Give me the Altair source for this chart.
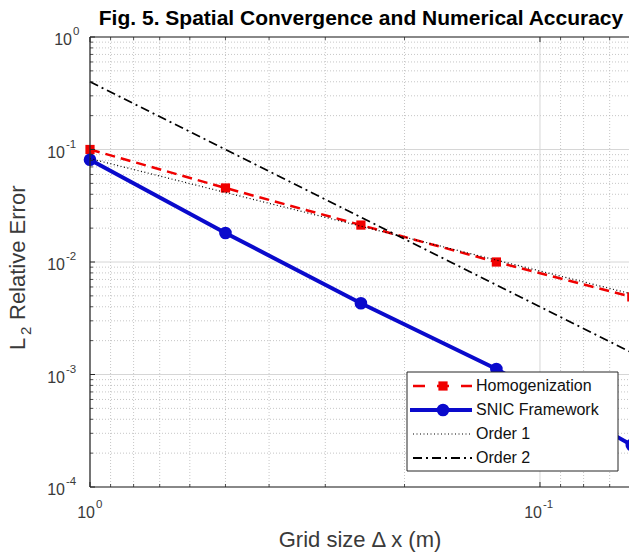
import altair as alt
import pandas as pd

# ---------------- data ----------------
dx = [1.0, 0.5, 0.25, 0.125, 0.0625]
homogenization = [0.100, 0.0455, 0.0213, 0.0100, 0.0049]
snic = [0.081, 0.0181, 0.0043, 0.00112, 0.000236]
order1 = [0.083, 0.0415, 0.0208, 0.0104, 0.0052]
order2 = [0.40, 0.10, 0.025, 0.00625, 0.0015625]
series_names = ["Homogenization", "SNIC Framework", "Order 1", "Order 2"]

y_decades = [1.0, 0.1, 0.01, 0.001, 0.0001]
y_exponents = ["0", "-1", "-2", "-3", "-4"]
x_decades = [1.0, 0.1]
x_exponents = ["0", "-1"]
minor_mult = [2, 3, 4, 5, 6, 7, 8, 9]
y_minor = [m * d for d in [0.1, 0.01, 0.001, 0.0001] for m in minor_mult]
x_minor = [m * d for d in [0.1, 0.01] for m in minor_mult if 0.0634 < m * d < 1]

title_text = "Fig. 5. Spatial Convergence and Numerical Accuracy"
x_title = "Grid size \u0394 x (m)"
y_title_main = "Relative Error"

# ---------------- layout / style ----------------
W, H = 539, 450
FONT = "Liberation Sans"
LABEL_COLOR = "#3a3a3a"
AXIS_COLOR = "#262626"
RED = "#f00000"
BLUE = "#0a0acc"

xs = alt.Scale(type="log", domain=[0.06341, 1.0], reverse=True, nice=False)
ys = alt.Scale(type="log", domain=[0.0001, 1.0], nice=False)

dummy = pd.DataFrame({"k": [0]})
layers = []

# ---- grid ----
ymin_df = pd.DataFrame({"v": y_minor})
xmin_df = pd.DataFrame({"v": x_minor})
ymaj_df = pd.DataFrame({"v": y_decades})
xmaj_df = pd.DataFrame({"v": x_decades})

layers.append(alt.Chart(ymin_df).mark_rule(color="#b8b8b8", strokeWidth=0.8, strokeDash=[1, 2]).encode(
    y=alt.Y("v:Q", scale=ys, axis=None), x=alt.value(0), x2=alt.value(W)))
layers.append(alt.Chart(xmin_df).mark_rule(color="#b8b8b8", strokeWidth=0.8, strokeDash=[1, 2]).encode(
    x=alt.X("v:Q", scale=xs, axis=None), y=alt.value(0), y2=alt.value(H)))
layers.append(alt.Chart(ymaj_df).mark_rule(color="#d6d6d6", strokeWidth=1).encode(
    y=alt.Y("v:Q", scale=ys, axis=None), x=alt.value(0), x2=alt.value(W)))
layers.append(alt.Chart(xmaj_df).mark_rule(color="#d6d6d6", strokeWidth=1).encode(
    x=alt.X("v:Q", scale=xs, axis=None), y=alt.value(0), y2=alt.value(H)))

# ---- data lines ----
def series_df(vals, name):
    return pd.DataFrame({"dx": dx, "err": vals, "series": name})

enc = dict(x=alt.X("dx:Q", scale=xs, axis=None), y=alt.Y("err:Q", scale=ys, axis=None))

df_h = series_df(homogenization, series_names[0])
df_s = series_df(snic, series_names[1])
df_o1 = series_df(order1, series_names[2])
df_o2 = series_df(order2, series_names[3])

layers.append(alt.Chart(df_h).mark_line(color=RED, strokeWidth=2.5, strokeDash=[10, 6]).encode(**enc))
layers.append(alt.Chart(df_h).mark_square(color=RED, size=85, opacity=1).encode(**enc))
layers.append(alt.Chart(df_s).mark_line(color=BLUE, strokeWidth=4).encode(**enc))
layers.append(alt.Chart(df_s).mark_circle(color=BLUE, size=160, opacity=1).encode(**enc))
layers.append(alt.Chart(df_o1).mark_line(color="#000000", strokeWidth=1.2, strokeDash=[1, 2.5]).encode(**enc))
layers.append(alt.Chart(df_o2).mark_line(color="#000000", strokeWidth=1.8, strokeDash=[9, 4, 2, 4]).encode(**enc))

# ---- frame ----
layers.append(alt.Chart(dummy).mark_rule(color=AXIS_COLOR, strokeWidth=1.2).encode(
    x=alt.value(0), y=alt.value(0), y2=alt.value(H)))
layers.append(alt.Chart(dummy).mark_rule(color=AXIS_COLOR, strokeWidth=1.2).encode(
    y=alt.value(0), x=alt.value(0), x2=alt.value(W)))
layers.append(alt.Chart(dummy).mark_rule(color=AXIS_COLOR, strokeWidth=1.2).encode(
    y=alt.value(H), x=alt.value(0), x2=alt.value(W)))

# ---- inward ticks ----
layers.append(alt.Chart(ymaj_df).mark_rule(color=AXIS_COLOR, strokeWidth=1).encode(
    y=alt.Y("v:Q", scale=ys, axis=None), x=alt.value(0), x2=alt.value(5)))
layers.append(alt.Chart(ymin_df).mark_rule(color=AXIS_COLOR, strokeWidth=0.8).encode(
    y=alt.Y("v:Q", scale=ys, axis=None), x=alt.value(0), x2=alt.value(3)))
for y0, y1 in [(H, H - 5), (0, 5)]:
    layers.append(alt.Chart(xmaj_df).mark_rule(color=AXIS_COLOR, strokeWidth=1).encode(
        x=alt.X("v:Q", scale=xs, axis=None), y=alt.value(y0), y2=alt.value(y1)))
for y0, y1 in [(H, H - 3), (0, 3)]:
    layers.append(alt.Chart(xmin_df).mark_rule(color=AXIS_COLOR, strokeWidth=0.8).encode(
        x=alt.X("v:Q", scale=xs, axis=None), y=alt.value(y0), y2=alt.value(y1)))

# ---- tick labels (10 with superscript exponent) ----
ylab_df = pd.DataFrame({"v": y_decades, "e": y_exponents})
xlab_df = pd.DataFrame({"v": x_decades, "e": x_exponents})
is_zero = "datum.e === '0'"
not_zero = "datum.e !== '0'"

for filt, xpos in [(is_zero, -18), (not_zero, -25)]:
    layers.append(alt.Chart(ylab_df).transform_filter(filt).mark_text(
        text="10", font=FONT, fontSize=16, color=LABEL_COLOR, align="right", baseline="middle", dy=3).encode(
        y=alt.Y("v:Q", scale=ys, axis=None), x=alt.value(xpos)))
    layers.append(alt.Chart(ylab_df).transform_filter(filt).mark_text(
        font=FONT, fontSize=11.5, color=LABEL_COLOR, align="left", baseline="middle", dy=-5).encode(
        y=alt.Y("v:Q", scale=ys, axis=None), x=alt.value(xpos + 1), text="e:N"))

for filt, off in [(is_zero, 5), (not_zero, 2)]:
    layers.append(alt.Chart(xlab_df).transform_filter(filt).mark_text(
        text="10", font=FONT, fontSize=16, color=LABEL_COLOR, align="right", baseline="middle", dx=off).encode(
        x=alt.X("v:Q", scale=xs, axis=None), y=alt.value(476)))
    layers.append(alt.Chart(xlab_df).transform_filter(filt).mark_text(
        font=FONT, fontSize=11.5, color=LABEL_COLOR, align="left", baseline="middle", dx=off + 1).encode(
        x=alt.X("v:Q", scale=xs, axis=None), y=alt.value(468), text="e:N"))

# ---- axis titles and title ----
layers.append(alt.Chart(dummy).mark_text(
    text=x_title, font=FONT, fontSize=22, color=LABEL_COLOR, align="center", baseline="middle").encode(
    x=alt.value(270), y=alt.value(503)))
layers.append(alt.Chart(dummy).mark_text(
    text="L", font=FONT, fontSize=22, color=LABEL_COLOR, align="left", baseline="middle", angle=270).encode(
    x=alt.value(-72), y=alt.value(313)))
layers.append(alt.Chart(dummy).mark_text(
    text="2", font=FONT, fontSize=15, color=LABEL_COLOR, align="left", baseline="middle", angle=270).encode(
    x=alt.value(-64), y=alt.value(298)))
layers.append(alt.Chart(dummy).mark_text(
    text=y_title_main, font=FONT, fontSize=22, color=LABEL_COLOR, align="left", baseline="middle", angle=270).encode(
    x=alt.value(-72), y=alt.value(283)))
layers.append(alt.Chart(dummy).mark_text(
    text=title_text, font=FONT, fontSize=21, fontWeight="bold", color="#000000", align="center",
    baseline="alphabetic").encode(x=alt.value(271), y=alt.value(-12)))

# ---- legend ----
LX0, LX1, LY0, LY1 = 317, 528, 335, 434
layers.append(alt.Chart(dummy).mark_rect(fill="white", stroke=AXIS_COLOR, strokeWidth=1).encode(
    x=alt.value(LX0), x2=alt.value(LX1), y=alt.value(LY0), y2=alt.value(LY1)))
rows = [349, 373, 397, 421]
SX0, SX1, SXM, TX = 323, 382, 353, 386
layers.append(alt.Chart(dummy).mark_rule(color=RED, strokeWidth=2.5, strokeDash=[12, 12]).encode(
    x=alt.value(SX0), x2=alt.value(SX1), y=alt.value(rows[0])))
layers.append(alt.Chart(dummy).mark_square(color=RED, size=85, opacity=1).encode(
    x=alt.value(SXM), y=alt.value(rows[0])))
layers.append(alt.Chart(dummy).mark_rule(color=BLUE, strokeWidth=4).encode(
    x=alt.value(SX0 - 3), x2=alt.value(SX1), y=alt.value(rows[1])))
layers.append(alt.Chart(dummy).mark_circle(color=BLUE, size=160, opacity=1).encode(
    x=alt.value(SXM), y=alt.value(rows[1])))
layers.append(alt.Chart(dummy).mark_rule(color="#000000", strokeWidth=1.2, strokeDash=[1, 2.5]).encode(
    x=alt.value(SX0), x2=alt.value(SX1), y=alt.value(rows[2])))
layers.append(alt.Chart(dummy).mark_rule(color="#000000", strokeWidth=1.8, strokeDash=[9, 4, 2, 4]).encode(
    x=alt.value(SX0), x2=alt.value(SX1), y=alt.value(rows[3])))
leg_df = pd.DataFrame({"name": series_names})
for i, name in enumerate(series_names):
    layers.append(alt.Chart(leg_df).transform_filter(alt.datum.name == name).mark_text(
        font=FONT, fontSize=16, color="#111111", align="left", baseline="middle").encode(
        x=alt.value(TX), y=alt.value(rows[i]), text="name:N"))

chart = alt.layer(*layers).properties(
    width=W, height=H,
    autosize=alt.AutoSizeParams(type="none"),
    padding={"left": 90, "top": 37, "right": 0, "bottom": 70},
    background="white",
).configure_view(stroke="transparent")

chart.save("out.html", embed_options={"renderer": "svg", "actions": False})
